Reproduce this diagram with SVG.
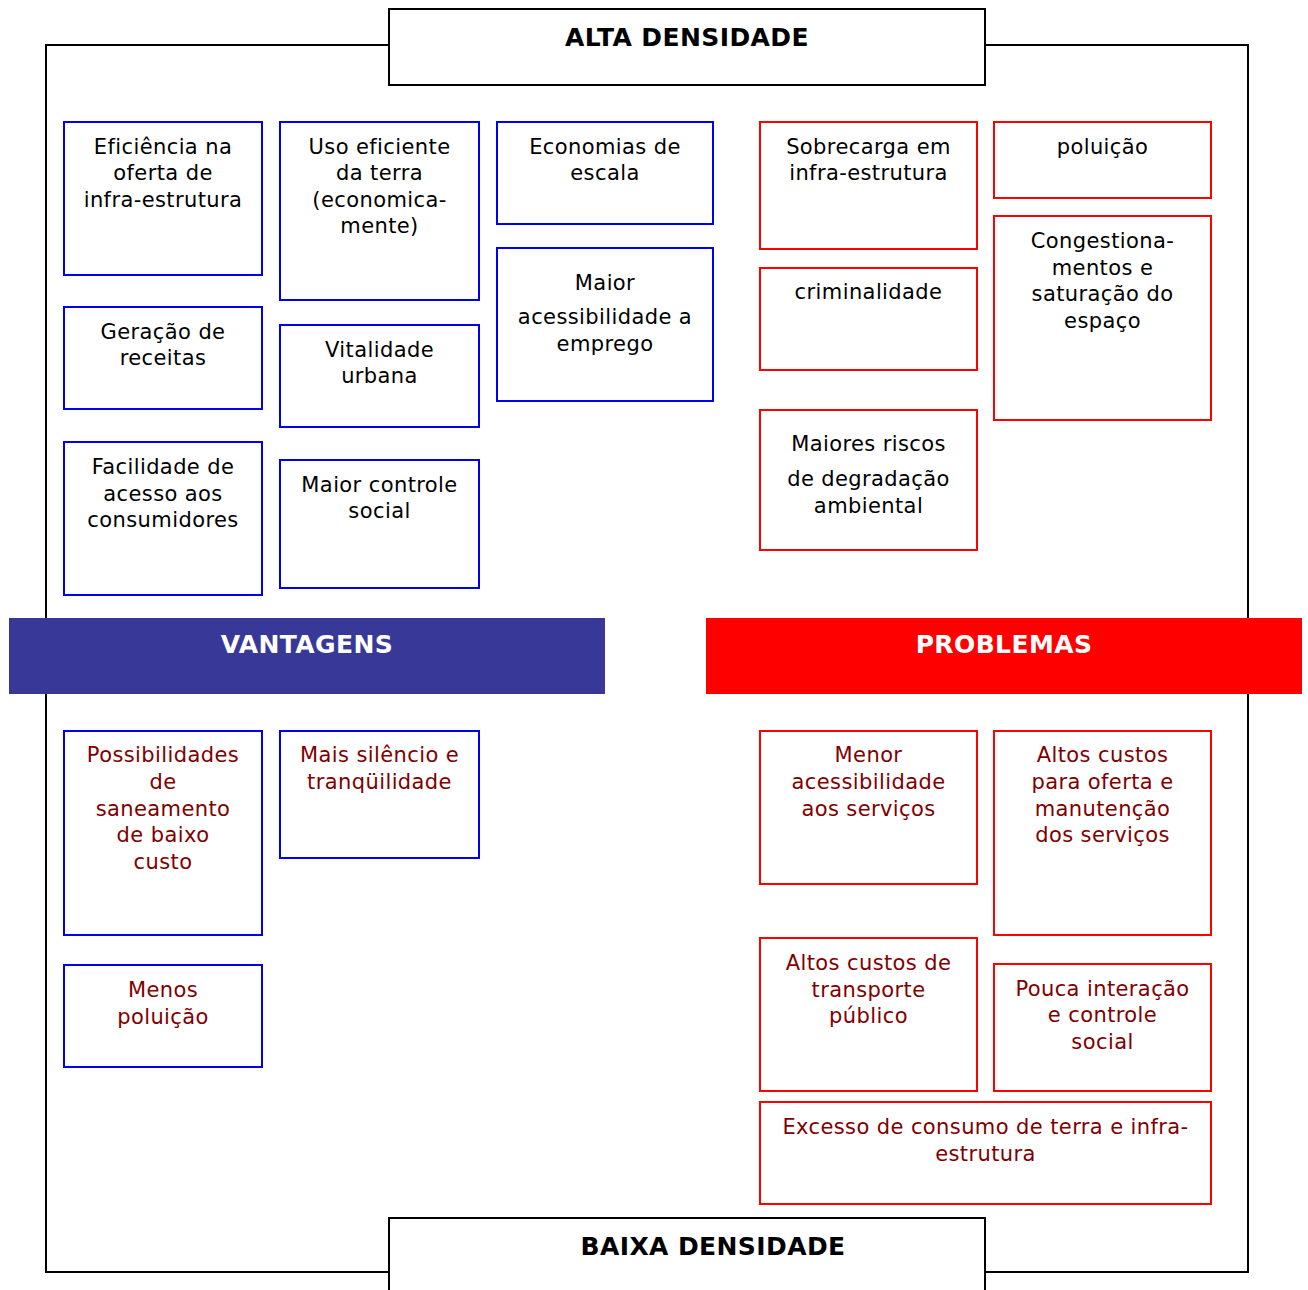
<svg xmlns="http://www.w3.org/2000/svg" width="1308" height="1290" viewBox="0 0 1308 1290">
<style>
.frame{fill:none;stroke:#000;stroke-width:2}
.title{fill:#fff;stroke:#000;stroke-width:2}
.b{fill:#fff;stroke:#0000ee;stroke-width:2}
.r{fill:#fff;stroke:#ff0000;stroke-width:2}
text{font-family:"DejaVu Sans","Verdana",sans-serif;font-size:21px;text-anchor:middle;letter-spacing:0.4px}
.k{fill:#000}
.d{fill:#800000}
.h{font-weight:bold;font-size:25px;letter-spacing:0.4px}
.w{fill:#fff}
</style>
<rect x="0" y="0" width="1308" height="1290" fill="#fff"/>
<g id="frame"><rect class="frame" x="46" y="45" width="1202" height="1227"/></g>
<g id="connectors"></g>
<g id="alta"><rect class="title" x="389" y="9" width="596" height="76"/><text class="h k" x="687" y="46">ALTA DENSIDADE</text></g>
<g id="baixa"><rect class="title" x="389" y="1218" width="596" height="100"/><text class="h k" x="713" y="1255">BAIXA DENSIDADE</text></g>
<g id="vantagens"><rect x="9" y="618" width="596" height="76" fill="#383899"/><text class="h w" x="307" y="653">VANTAGENS</text></g>
<g id="problemas"><rect x="706" y="618" width="596" height="76" fill="#ff0000"/><text class="h w" x="1004" y="653">PROBLEMAS</text></g>

<g id="n1"><rect class="b" x="64" y="122" width="198" height="153"/><text class="k" x="163"><tspan x="163" y="154">Eficiência na</tspan><tspan x="163" y="180">oferta de</tspan><tspan x="163" y="207">infra-estrutura</tspan></text></g>
<g id="n2"><rect class="b" x="280" y="122" width="199" height="178"/><text class="k" x="379.5"><tspan x="379.5" y="154">Uso eficiente</tspan><tspan x="379.5" y="180">da terra</tspan><tspan x="379.5" y="207">(economica-</tspan><tspan x="379.5" y="233">mente)</tspan></text></g>
<g id="n3"><rect class="b" x="497" y="122" width="216" height="102"/><text class="k" x="605"><tspan x="605" y="154">Economias de</tspan><tspan x="605" y="180">escala</tspan></text></g>
<g id="n4"><rect class="b" x="64" y="307" width="198" height="102"/><text class="k" x="163"><tspan x="163" y="339">Geração de</tspan><tspan x="163" y="365">receitas</tspan></text></g>
<g id="n5"><rect class="b" x="280" y="325" width="199" height="102"/><text class="k" x="379.5"><tspan x="379.5" y="357">Vitalidade</tspan><tspan x="379.5" y="383">urbana</tspan></text></g>
<g id="n6"><rect class="b" x="497" y="248" width="216" height="153"/><text class="k" x="605"><tspan x="605" y="290">Maior</tspan><tspan x="605" y="324">acessibilidade a</tspan><tspan x="605" y="351">emprego</tspan></text></g>
<g id="n7"><rect class="b" x="64" y="442" width="198" height="153"/><text class="k" x="163"><tspan x="163" y="474">Facilidade de</tspan><tspan x="163" y="501">acesso aos</tspan><tspan x="163" y="527">consumidores</tspan></text></g>
<g id="n8"><rect class="b" x="280" y="460" width="199" height="128"/><text class="k" x="379.5"><tspan x="379.5" y="492">Maior controle</tspan><tspan x="379.5" y="518">social</tspan></text></g>

<g id="n9"><rect class="r" x="760" y="122" width="217" height="127"/><text class="k" x="868.5"><tspan x="868.5" y="154">Sobrecarga em</tspan><tspan x="868.5" y="180">infra-estrutura</tspan></text></g>
<g id="n10"><rect class="r" x="994" y="122" width="217" height="76"/><text class="k" x="1102.5" y="154">poluição</text></g>
<g id="n11"><rect class="r" x="760" y="268" width="217" height="102"/><text class="k" x="868.5" y="299">criminalidade</text></g>
<g id="n12"><rect class="r" x="994" y="216" width="217" height="204"/><text class="k" x="1102.5"><tspan x="1102.5" y="248">Congestiona-</tspan><tspan x="1102.5" y="275">mentos e</tspan><tspan x="1102.5" y="301">saturação do</tspan><tspan x="1102.5" y="328">espaço</tspan></text></g>
<g id="n13"><rect class="r" x="760" y="410" width="217" height="140"/><text class="k" x="868.5"><tspan x="868.5" y="451">Maiores riscos</tspan><tspan x="868.5" y="486">de degradação</tspan><tspan x="868.5" y="513">ambiental</tspan></text></g>

<g id="n14"><rect class="b" x="64" y="731" width="198" height="204"/><text class="d" x="163"><tspan x="163" y="762">Possibilidades</tspan><tspan x="163" y="789">de</tspan><tspan x="163" y="816">saneamento</tspan><tspan x="163" y="842">de baixo</tspan><tspan x="163" y="869">custo</tspan></text></g>
<g id="n15"><rect class="b" x="280" y="731" width="199" height="127"/><text class="d" x="379.5"><tspan x="379.5" y="762">Mais silêncio e</tspan><tspan x="379.5" y="789">tranqüilidade</tspan></text></g>
<g id="n16"><rect class="b" x="64" y="965" width="198" height="102"/><text class="d" x="163"><tspan x="163" y="997">Menos</tspan><tspan x="163" y="1024">poluição</tspan></text></g>

<g id="n17"><rect class="r" x="760" y="731" width="217" height="153"/><text class="d" x="868.5"><tspan x="868.5" y="762">Menor</tspan><tspan x="868.5" y="789">acessibilidade</tspan><tspan x="868.5" y="816">aos serviços</tspan></text></g>
<g id="n18"><rect class="r" x="994" y="731" width="217" height="204"/><text class="d" x="1102.5"><tspan x="1102.5" y="762">Altos custos</tspan><tspan x="1102.5" y="789">para oferta e</tspan><tspan x="1102.5" y="816">manutenção</tspan><tspan x="1102.5" y="842">dos serviços</tspan></text></g>
<g id="n19"><rect class="r" x="760" y="938" width="217" height="153"/><text class="d" x="868.5"><tspan x="868.5" y="970">Altos custos de</tspan><tspan x="868.5" y="997">transporte</tspan><tspan x="868.5" y="1023">público</tspan></text></g>
<g id="n20"><rect class="r" x="994" y="964" width="217" height="127"/><text class="d" x="1102.5"><tspan x="1102.5" y="996">Pouca interação</tspan><tspan x="1102.5" y="1022">e controle</tspan><tspan x="1102.5" y="1049">social</tspan></text></g>
<g id="n21"><rect class="r" x="760" y="1102" width="451" height="102"/><text class="d" x="985.5"><tspan x="985.5" y="1134">Excesso de consumo de terra e infra-</tspan><tspan x="985.5" y="1161">estrutura</tspan></text></g>
</svg>
